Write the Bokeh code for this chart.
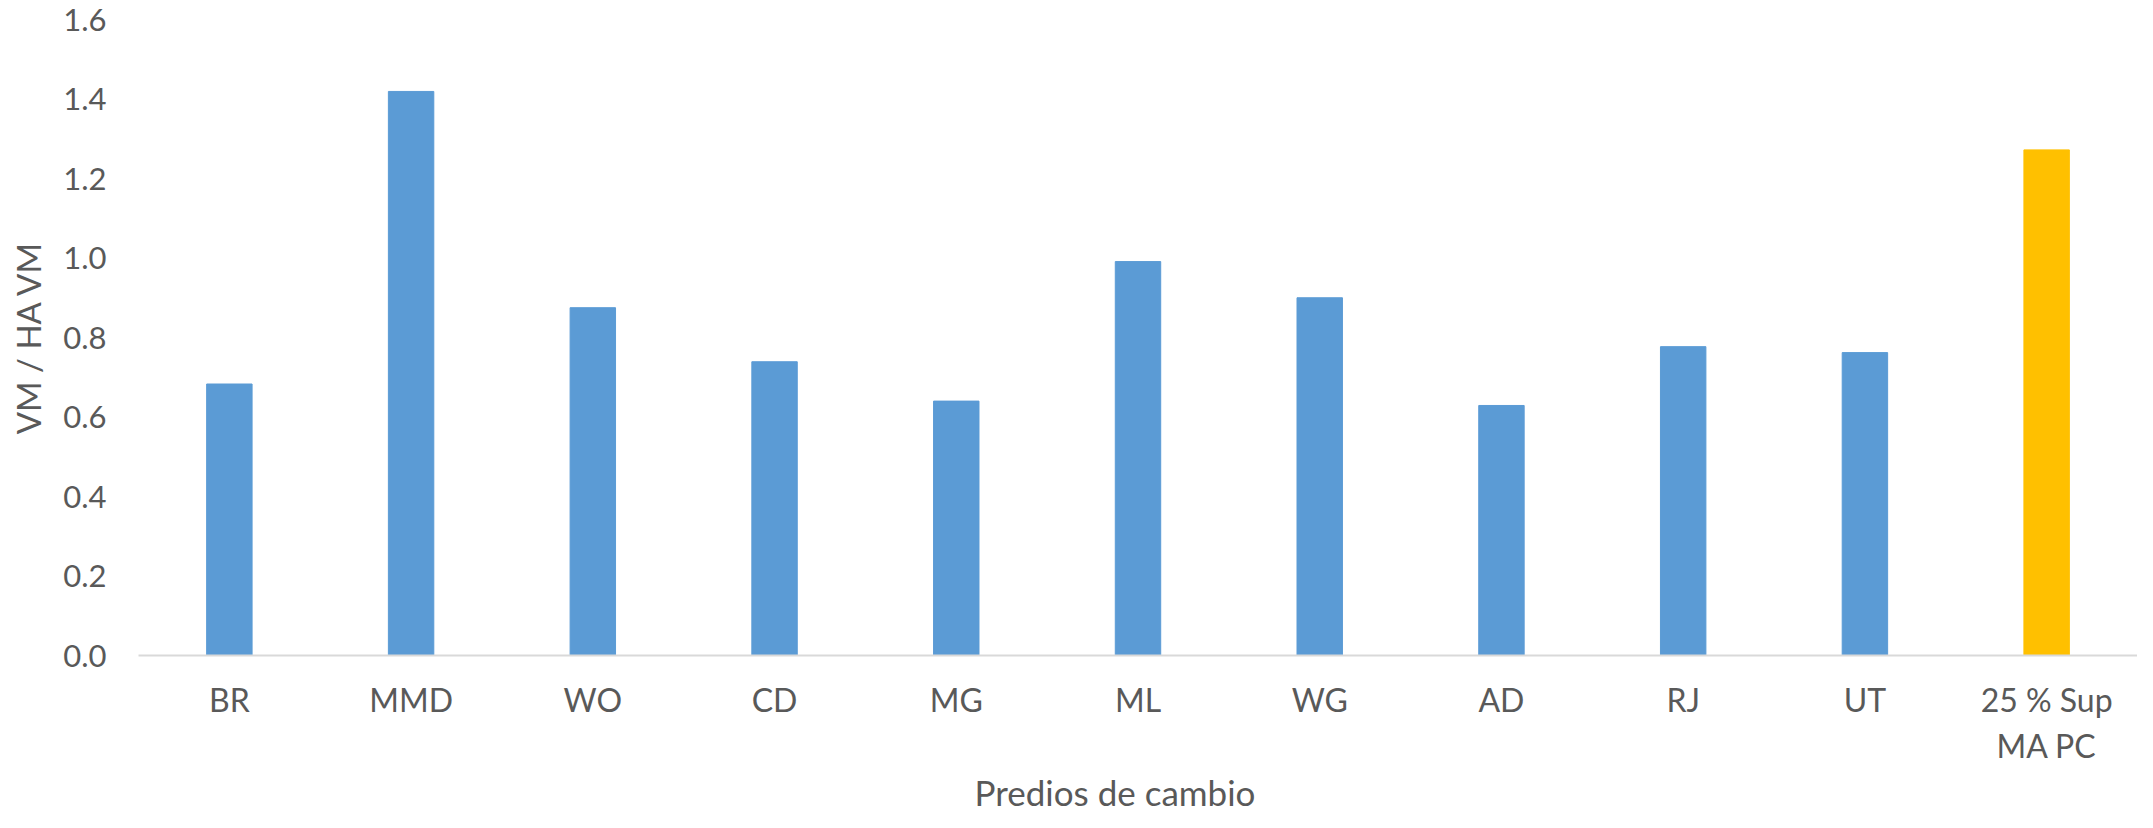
from bokeh.plotting import figure
from bokeh.models import ColumnDataSource, Range1d, FixedTicker, NumeralTickFormatter, Title
from bokeh.embed import file_html
from bokeh.resources import INLINE

categories = ["BR", "MMD", "WO", "CD", "MG", "ML", "WG", "AD", "RJ", "UT", "25 % Sup\nMA PC"]
values = [0.683, 1.419, 0.875, 0.739, 0.640, 0.991, 0.900, 0.629, 0.777, 0.762, 1.272]
bar_colors = ["#5B9BD5"] * 10 + ["#FFC000"]
y_ticks = [0.0, 0.2, 0.4, 0.6, 0.8, 1.0, 1.2, 1.4, 1.6]
x_title = "Predios de cambio"
y_title = "VM / HA VM"

FONT = "Lato"
TXT = "#595959"

src = ColumnDataSource(dict(cat=categories, val=values, col=bar_colors))

p = figure(x_range=categories, y_range=Range1d(0, 1.6), width=2137, height=812,
           output_backend="svg", toolbar_location=None,
           min_border_left=138, min_border_right=0, min_border_top=19, min_border_bottom=140)
p.outline_line_color = None
p.background_fill_color = "white"
p.border_fill_color = "white"

p.vbar(x="cat", top="val", width=0.25, color="col", source=src)

p.xgrid.grid_line_color = None
p.ygrid.grid_line_color = None

# y axis
p.yaxis.ticker = FixedTicker(ticks=y_ticks)
p.yaxis.formatter = NumeralTickFormatter(format="0.0")
p.yaxis.axis_line_color = None
p.yaxis.major_tick_line_color = None
p.yaxis.minor_tick_line_color = None
p.yaxis.major_tick_out = 0
p.yaxis.major_tick_in = 0
p.yaxis.major_label_standoff = 32
p.yaxis.major_label_text_font = FONT
p.yaxis.major_label_text_font_size = "31px"
p.yaxis.major_label_text_color = TXT
p.yaxis.axis_label = y_title
p.yaxis.axis_label_text_font = FONT
p.yaxis.axis_label_text_font_style = "normal"
p.yaxis.axis_label_text_font_size = "33px"
p.yaxis.axis_label_text_color = TXT
p.yaxis.axis_label_standoff = 12

# x axis
p.xaxis.axis_line_color = "#D9D9D9"
p.xaxis.axis_line_width = 2
p.xaxis.major_tick_line_color = None
p.xaxis.major_tick_out = 0
p.xaxis.major_tick_in = 0
p.xaxis.major_label_standoff = 24
p.xaxis.major_label_text_font = FONT
p.xaxis.major_label_text_font_size = "32px"
p.xaxis.major_label_text_color = TXT

# x-axis title, slightly left of centre as in the original
p.add_layout(Title(text=x_title, align="left", offset=836, standoff=0,
                   text_font=FONT, text_font_size="35px", text_font_style="normal",
                   text_color=TXT), "below")

open("out.html", "w").write(file_html(p, INLINE))
